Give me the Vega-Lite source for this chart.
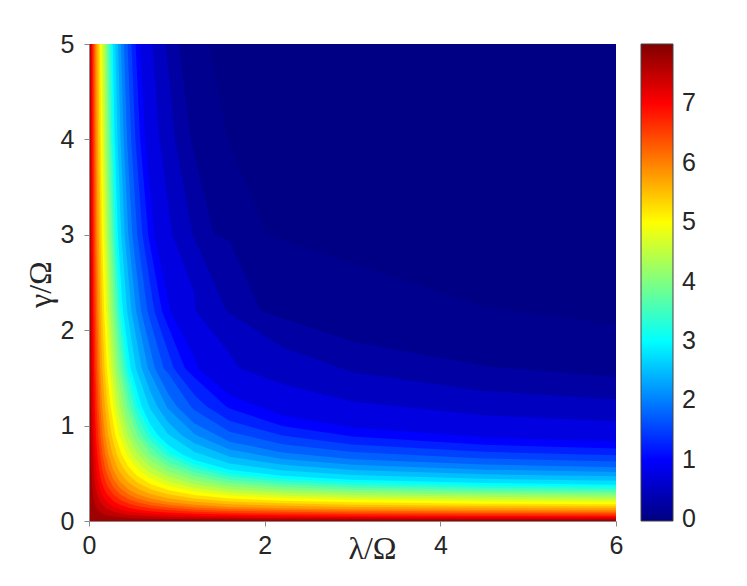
{
"$schema":"https://vega.github.io/schema/vega-lite/v6.json",
"width":527,"height":477,
"autosize":{"type":"none"},
"padding":{"left":89,"top":44,"right":131,"bottom":65},
"background":"white",
"config":{"view":{"stroke":null}},
"data":{"values":[
{"lev":0,"x":0,"y":5},{"lev":0,"x":6,"y":5},
{"lev":0.08,"x":0,"y":5},{"lev":0.08,"x":1.361,"y":5},{"lev":0.08,"x":1.582,"y":4},{"lev":0.08,"x":2.028,"y":3},{"lev":0.08,"x":3,"y":2.699},{"lev":0.08,"x":4.5,"y":2.247},{"lev":0.08,"x":6,"y":2.061},
{"lev":0.25,"x":0,"y":5},{"lev":0.25,"x":1.022,"y":5},{"lev":0.25,"x":1.16,"y":4},{"lev":0.25,"x":1.422,"y":3},{"lev":0.25,"x":1.6,"y":2.94},{"lev":0.25,"x":1.957,"y":2.2},{"lev":0.25,"x":3,"y":1.884},{"lev":0.25,"x":4.5,"y":1.624},{"lev":0.25,"x":6,"y":1.511},
{"lev":0.5,"x":0,"y":5},{"lev":0.5,"x":0.872,"y":5},{"lev":0.5,"x":0.981,"y":4},{"lev":0.5,"x":1.18,"y":3},{"lev":0.5,"x":1.565,"y":2.2},{"lev":0.5,"x":2.2,"y":1.821},{"lev":0.5,"x":3,"y":1.559},{"lev":0.5,"x":4.5,"y":1.363},{"lev":0.5,"x":6,"y":1.277},
{"lev":0.75,"x":0,"y":5},{"lev":0.75,"x":0.721,"y":5},{"lev":0.75,"x":0.803,"y":4},{"lev":0.75,"x":0.949,"y":3},{"lev":0.75,"x":1.2,"y":2.398},{"lev":0.75,"x":1.216,"y":2.2},{"lev":0.75,"x":1.6,"y":1.757},{"lev":0.75,"x":1.714,"y":1.6},{"lev":0.75,"x":2.2,"y":1.437},{"lev":0.75,"x":3,"y":1.252},{"lev":0.75,"x":4.5,"y":1.109},{"lev":0.75,"x":6,"y":1.045},
{"lev":1,"x":0,"y":5},{"lev":1,"x":0.58,"y":5},{"lev":1,"x":0.64,"y":4},{"lev":1,"x":0.744,"y":3},{"lev":1,"x":0.926,"y":2.2},{"lev":1,"x":1.2,"y":1.71},{"lev":1,"x":1.24,"y":1.6},{"lev":1,"x":1.6,"y":1.319},{"lev":1,"x":2.2,"y":1.107},{"lev":1,"x":3,"y":0.98},{"lev":1,"x":4.5,"y":0.879},{"lev":1,"x":6,"y":0.833},
{"lev":1.25,"x":0,"y":5},{"lev":1.25,"x":0.53,"y":5},{"lev":1.25,"x":0.583,"y":4},{"lev":1.25,"x":0.674,"y":3},{"lev":1.25,"x":0.83,"y":2.2},{"lev":1.25,"x":1.093,"y":1.6},{"lev":1.25,"x":1.2,"y":1.503},{"lev":1.25,"x":1.56,"y":1.2},{"lev":1.25,"x":1.6,"y":1.178},{"lev":1.25,"x":2.2,"y":0.997},{"lev":1.25,"x":3,"y":0.887},{"lev":1.25,"x":4.5,"y":0.799},{"lev":1.25,"x":6,"y":0.759},
{"lev":1.5,"x":0,"y":5},{"lev":1.5,"x":0.483,"y":5},{"lev":1.5,"x":0.529,"y":4},{"lev":1.5,"x":0.609,"y":3},{"lev":1.5,"x":0.744,"y":2.2},{"lev":1.5,"x":0.965,"y":1.6},{"lev":1.5,"x":1.2,"y":1.322},{"lev":1.5,"x":1.341,"y":1.2},{"lev":1.5,"x":1.6,"y":1.05},{"lev":1.5,"x":2.2,"y":0.896},{"lev":1.5,"x":3,"y":0.801},{"lev":1.5,"x":4.5,"y":0.725},{"lev":1.5,"x":6,"y":0.689},
{"lev":1.75,"x":0,"y":5},{"lev":1.75,"x":0.439,"y":5},{"lev":1.75,"x":0.48,"y":4},{"lev":1.75,"x":0.549,"y":3},{"lev":1.75,"x":0.665,"y":2.2},{"lev":1.75,"x":0.851,"y":1.6},{"lev":1.75,"x":0.9,"y":1.548},{"lev":1.75,"x":1.158,"y":1.2},{"lev":1.75,"x":1.2,"y":1.163},{"lev":1.75,"x":1.6,"y":0.935},{"lev":1.75,"x":2.2,"y":0.804},{"lev":1.75,"x":3,"y":0.722},{"lev":1.75,"x":4.5,"y":0.656},{"lev":1.75,"x":6,"y":0.624},
{"lev":2,"x":0,"y":5},{"lev":2,"x":0.397,"y":5},{"lev":2,"x":0.433,"y":4},{"lev":2,"x":0.493,"y":3},{"lev":2,"x":0.593,"y":2.2},{"lev":2,"x":0.75,"y":1.6},{"lev":2,"x":0.9,"y":1.335},{"lev":2,"x":1.0,"y":1.2},{"lev":2,"x":1.2,"y":1.021},{"lev":2,"x":1.6,"y":0.831},{"lev":2,"x":2.2,"y":0.719},{"lev":2,"x":3,"y":0.648},{"lev":2,"x":4.5,"y":0.591},{"lev":2,"x":6,"y":0.564},
{"lev":2.25,"x":0,"y":5},{"lev":2.25,"x":0.363,"y":5},{"lev":2.25,"x":0.395,"y":4},{"lev":2.25,"x":0.448,"y":3},{"lev":2.25,"x":0.536,"y":2.2},{"lev":2.25,"x":0.671,"y":1.6},{"lev":2.25,"x":0.882,"y":1.2},{"lev":2.25,"x":0.9,"y":1.176},{"lev":2.25,"x":1.2,"y":0.913},{"lev":2.25,"x":1.222,"y":0.9},{"lev":2.25,"x":1.6,"y":0.749},{"lev":2.25,"x":2.2,"y":0.651},{"lev":2.25,"x":3,"y":0.59},{"lev":2.25,"x":4.5,"y":0.538},{"lev":2.25,"x":6,"y":0.514},
{"lev":2.5,"x":0,"y":5},{"lev":2.5,"x":0.331,"y":5},{"lev":2.5,"x":0.359,"y":4},{"lev":2.5,"x":0.406,"y":3},{"lev":2.5,"x":0.483,"y":2.2},{"lev":2.5,"x":0.6,"y":1.6},{"lev":2.5,"x":0.7,"y":1.353},{"lev":2.5,"x":0.778,"y":1.2},{"lev":2.5,"x":0.9,"y":1.035},{"lev":2.5,"x":1.055,"y":0.9},{"lev":2.5,"x":1.2,"y":0.814},{"lev":2.5,"x":1.6,"y":0.673},{"lev":2.5,"x":2.2,"y":0.589},{"lev":2.5,"x":3,"y":0.534},{"lev":2.5,"x":4.5,"y":0.489},{"lev":2.5,"x":6,"y":0.468},
{"lev":2.75,"x":0,"y":5},{"lev":2.75,"x":0.3,"y":5},{"lev":2.75,"x":0.325,"y":4},{"lev":2.75,"x":0.367,"y":3},{"lev":2.75,"x":0.434,"y":2.2},{"lev":2.75,"x":0.534,"y":1.6},{"lev":2.75,"x":0.684,"y":1.2},{"lev":2.75,"x":0.7,"y":1.169},{"lev":2.75,"x":0.9,"y":0.91},{"lev":2.75,"x":1.2,"y":0.723},{"lev":2.75,"x":1.6,"y":0.603},{"lev":2.75,"x":2.2,"y":0.529},{"lev":2.75,"x":3,"y":0.482},{"lev":2.75,"x":4.5,"y":0.442},{"lev":2.75,"x":6,"y":0.423},
{"lev":3,"x":0,"y":5},{"lev":3,"x":0.271,"y":5},{"lev":3,"x":0.293,"y":4},{"lev":3,"x":0.329,"y":3},{"lev":3,"x":0.387,"y":2.2},{"lev":3,"x":0.474,"y":1.6},{"lev":3,"x":0.6,"y":1.2},{"lev":3,"x":0.7,"y":1.009},{"lev":3,"x":0.786,"y":0.9},{"lev":3,"x":0.9,"y":0.797},{"lev":3,"x":1.059,"y":0.7},{"lev":3,"x":1.2,"y":0.64},{"lev":3,"x":1.6,"y":0.537},{"lev":3,"x":2.2,"y":0.474},{"lev":3,"x":3,"y":0.432},{"lev":3,"x":4.5,"y":0.398},{"lev":3,"x":6,"y":0.381},
{"lev":3.25,"x":0,"y":5},{"lev":3.25,"x":0.254,"y":5},{"lev":3.25,"x":0.275,"y":4},{"lev":3.25,"x":0.308,"y":3},{"lev":3.25,"x":0.362,"y":2.2},{"lev":3.25,"x":0.44,"y":1.6},{"lev":3.25,"x":0.555,"y":1.2},{"lev":3.25,"x":0.7,"y":0.926},{"lev":3.25,"x":0.72,"y":0.9},{"lev":3.25,"x":0.9,"y":0.736},{"lev":3.25,"x":0.958,"y":0.7},{"lev":3.25,"x":1.2,"y":0.595},{"lev":3.25,"x":1.6,"y":0.501},{"lev":3.25,"x":2.2,"y":0.443},{"lev":3.25,"x":3,"y":0.405},{"lev":3.25,"x":4.5,"y":0.373},{"lev":3.25,"x":6,"y":0.358},
{"lev":3.5,"x":0,"y":5},{"lev":3.5,"x":0.238,"y":5},{"lev":3.5,"x":0.257,"y":4},{"lev":3.5,"x":0.288,"y":3},{"lev":3.5,"x":0.337,"y":2.2},{"lev":3.5,"x":0.409,"y":1.6},{"lev":3.5,"x":0.512,"y":1.2},{"lev":3.5,"x":0.55,"y":1.099},{"lev":3.5,"x":0.659,"y":0.9},{"lev":3.5,"x":0.7,"y":0.847},{"lev":3.5,"x":0.867,"y":0.7},{"lev":3.5,"x":0.9,"y":0.679},{"lev":3.5,"x":1.2,"y":0.552},{"lev":3.5,"x":1.6,"y":0.466},{"lev":3.5,"x":2.2,"y":0.413},{"lev":3.5,"x":3,"y":0.378},{"lev":3.5,"x":4.5,"y":0.349},{"lev":3.5,"x":6,"y":0.335},
{"lev":3.75,"x":0,"y":5},{"lev":3.75,"x":0.223,"y":5},{"lev":3.75,"x":0.24,"y":4},{"lev":3.75,"x":0.268,"y":3},{"lev":3.75,"x":0.313,"y":2.2},{"lev":3.75,"x":0.378,"y":1.6},{"lev":3.75,"x":0.471,"y":1.2},{"lev":3.75,"x":0.55,"y":0.994},{"lev":3.75,"x":0.602,"y":0.9},{"lev":3.75,"x":0.7,"y":0.775},{"lev":3.75,"x":0.783,"y":0.7},{"lev":3.75,"x":0.9,"y":0.625},{"lev":3.75,"x":1.2,"y":0.51},{"lev":3.75,"x":1.6,"y":0.433},{"lev":3.75,"x":2.2,"y":0.384},{"lev":3.75,"x":3,"y":0.352},{"lev":3.75,"x":4.5,"y":0.325},{"lev":3.75,"x":6,"y":0.312},
{"lev":4,"x":0,"y":5},{"lev":4,"x":0.207,"y":5},{"lev":4,"x":0.223,"y":4},{"lev":4,"x":0.249,"y":3},{"lev":4,"x":0.29,"y":2.2},{"lev":4,"x":0.349,"y":1.6},{"lev":4,"x":0.433,"y":1.2},{"lev":4,"x":0.549,"y":0.9},{"lev":4,"x":0.7,"y":0.706},{"lev":4,"x":0.9,"y":0.573},{"lev":4,"x":1.2,"y":0.471},{"lev":4,"x":1.6,"y":0.401},{"lev":4,"x":2.2,"y":0.356},{"lev":4,"x":3,"y":0.327},{"lev":4,"x":4.5,"y":0.302},{"lev":4,"x":6,"y":0.291},
{"lev":4.25,"x":0,"y":5},{"lev":4.25,"x":0.19,"y":5},{"lev":4.25,"x":0.205,"y":4},{"lev":4.25,"x":0.228,"y":3},{"lev":4.25,"x":0.265,"y":2.2},{"lev":4.25,"x":0.318,"y":1.6},{"lev":4.25,"x":0.391,"y":1.2},{"lev":4.25,"x":0.45,"y":1.001},{"lev":4.25,"x":0.493,"y":0.9},{"lev":4.25,"x":0.55,"y":0.798},{"lev":4.25,"x":0.628,"y":0.7},{"lev":4.25,"x":0.7,"y":0.634},{"lev":4.25,"x":0.9,"y":0.518},{"lev":4.25,"x":1.2,"y":0.428},{"lev":4.25,"x":1.6,"y":0.365},{"lev":4.25,"x":2.2,"y":0.326},{"lev":4.25,"x":3,"y":0.299},{"lev":4.25,"x":4.5,"y":0.277},{"lev":4.25,"x":6,"y":0.266},
{"lev":4.5,"x":0,"y":5},{"lev":4.5,"x":0.174,"y":5},{"lev":4.5,"x":0.187,"y":4},{"lev":4.5,"x":0.208,"y":3},{"lev":4.5,"x":0.241,"y":2.2},{"lev":4.5,"x":0.287,"y":1.6},{"lev":4.5,"x":0.352,"y":1.2},{"lev":4.5,"x":0.44,"y":0.9},{"lev":4.5,"x":0.55,"y":0.707},{"lev":4.5,"x":0.7,"y":0.567},{"lev":4.5,"x":0.9,"y":0.466},{"lev":4.5,"x":1.2,"y":0.386},{"lev":4.5,"x":1.6,"y":0.331},{"lev":4.5,"x":2.2,"y":0.296},{"lev":4.5,"x":3,"y":0.272},{"lev":4.5,"x":4.5,"y":0.253},{"lev":4.5,"x":6,"y":0.243},
{"lev":4.75,"x":0,"y":5},{"lev":4.75,"x":0.158,"y":5},{"lev":4.75,"x":0.169,"y":4},{"lev":4.75,"x":0.188,"y":3},{"lev":4.75,"x":0.217,"y":2.2},{"lev":4.75,"x":0.258,"y":1.6},{"lev":4.75,"x":0.315,"y":1.2},{"lev":4.75,"x":0.391,"y":0.9},{"lev":4.75,"x":0.45,"y":0.765},{"lev":4.75,"x":0.489,"y":0.7},{"lev":4.75,"x":0.55,"y":0.623},{"lev":4.75,"x":0.631,"y":0.55},{"lev":4.75,"x":0.7,"y":0.504},{"lev":4.75,"x":0.9,"y":0.417},{"lev":4.75,"x":1.2,"y":0.347},{"lev":4.75,"x":1.6,"y":0.299},{"lev":4.75,"x":2.2,"y":0.267},{"lev":4.75,"x":3,"y":0.247},{"lev":4.75,"x":4.5,"y":0.229},{"lev":4.75,"x":6,"y":0.22},
{"lev":5,"x":0,"y":5},{"lev":5,"x":0.142,"y":5},{"lev":5,"x":0.152,"y":4},{"lev":5,"x":0.169,"y":3},{"lev":5,"x":0.195,"y":2.2},{"lev":5,"x":0.231,"y":1.6},{"lev":5,"x":0.28,"y":1.2},{"lev":5,"x":0.345,"y":0.9},{"lev":5,"x":0.429,"y":0.7},{"lev":5,"x":0.45,"y":0.665},{"lev":5,"x":0.55,"y":0.546},{"lev":5,"x":0.7,"y":0.445},{"lev":5,"x":0.9,"y":0.37},{"lev":5,"x":1.2,"y":0.31},{"lev":5,"x":1.6,"y":0.267},{"lev":5,"x":2.2,"y":0.24},{"lev":5,"x":3,"y":0.222},{"lev":5,"x":4.5,"y":0.206},{"lev":5,"x":6,"y":0.198},
{"lev":5.25,"x":0,"y":5},{"lev":5.25,"x":0.126,"y":5},{"lev":5.25,"x":0.135,"y":4},{"lev":5.25,"x":0.149,"y":3},{"lev":5.25,"x":0.172,"y":2.2},{"lev":5.25,"x":0.203,"y":1.6},{"lev":5.25,"x":0.245,"y":1.2},{"lev":5.25,"x":0.3,"y":0.9},{"lev":5.25,"x":0.37,"y":0.7},{"lev":5.25,"x":0.45,"y":0.569},{"lev":5.25,"x":0.55,"y":0.472},{"lev":5.25,"x":0.7,"y":0.387},{"lev":5.25,"x":0.9,"y":0.324},{"lev":5.25,"x":1.2,"y":0.272},{"lev":5.25,"x":1.6,"y":0.236},{"lev":5.25,"x":2.2,"y":0.212},{"lev":5.25,"x":3,"y":0.196},{"lev":5.25,"x":4.5,"y":0.182},{"lev":5.25,"x":6,"y":0.176},
{"lev":5.5,"x":0,"y":5},{"lev":5.5,"x":0.11,"y":5},{"lev":5.5,"x":0.118,"y":4},{"lev":5.5,"x":0.131,"y":3},{"lev":5.5,"x":0.15,"y":2.2},{"lev":5.5,"x":0.176,"y":1.6},{"lev":5.5,"x":0.212,"y":1.2},{"lev":5.5,"x":0.258,"y":0.9},{"lev":5.5,"x":0.316,"y":0.7},{"lev":5.5,"x":0.35,"y":0.623},{"lev":5.5,"x":0.394,"y":0.55},{"lev":5.5,"x":0.45,"y":0.483},{"lev":5.5,"x":0.55,"y":0.403},{"lev":5.5,"x":0.7,"y":0.333},{"lev":5.5,"x":0.9,"y":0.28},{"lev":5.5,"x":1.2,"y":0.237},{"lev":5.5,"x":1.6,"y":0.205},{"lev":5.5,"x":2.2,"y":0.185},{"lev":5.5,"x":3,"y":0.171},{"lev":5.5,"x":4.5,"y":0.16},{"lev":5.5,"x":6,"y":0.154},
{"lev":5.75,"x":0,"y":5},{"lev":5.75,"x":0.095,"y":5},{"lev":5.75,"x":0.102,"y":4},{"lev":5.75,"x":0.112,"y":3},{"lev":5.75,"x":0.129,"y":2.2},{"lev":5.75,"x":0.151,"y":1.6},{"lev":5.75,"x":0.181,"y":1.2},{"lev":5.75,"x":0.219,"y":0.9},{"lev":5.75,"x":0.266,"y":0.7},{"lev":5.75,"x":0.328,"y":0.55},{"lev":5.75,"x":0.35,"y":0.514},{"lev":5.75,"x":0.4,"y":0.45},{"lev":5.75,"x":0.45,"y":0.404},{"lev":5.75,"x":0.55,"y":0.34},{"lev":5.75,"x":0.7,"y":0.282},{"lev":5.75,"x":0.9,"y":0.239},{"lev":5.75,"x":1.2,"y":0.202},{"lev":5.75,"x":1.6,"y":0.176},{"lev":5.75,"x":2.2,"y":0.159},{"lev":5.75,"x":3,"y":0.148},{"lev":5.75,"x":4.5,"y":0.138},{"lev":5.75,"x":6,"y":0.133},
{"lev":6,"x":0,"y":5},{"lev":6,"x":0.081,"y":5},{"lev":6,"x":0.086,"y":4},{"lev":6,"x":0.095,"y":3},{"lev":6,"x":0.108,"y":2.2},{"lev":6,"x":0.127,"y":1.6},{"lev":6,"x":0.151,"y":1.2},{"lev":6,"x":0.182,"y":0.9},{"lev":6,"x":0.22,"y":0.7},{"lev":6,"x":0.269,"y":0.55},{"lev":6,"x":0.28,"y":0.526},{"lev":6,"x":0.325,"y":0.45},{"lev":6,"x":0.35,"y":0.417},{"lev":6,"x":0.45,"y":0.331},{"lev":6,"x":0.55,"y":0.281},{"lev":6,"x":0.7,"y":0.235},{"lev":6,"x":0.9,"y":0.199},{"lev":6,"x":1.2,"y":0.17},{"lev":6,"x":1.6,"y":0.148},{"lev":6,"x":2.2,"y":0.134},{"lev":6,"x":3,"y":0.124},{"lev":6,"x":4.5,"y":0.116},{"lev":6,"x":6,"y":0.112},
{"lev":6.25,"x":0,"y":5},{"lev":6.25,"x":0.069,"y":5},{"lev":6.25,"x":0.074,"y":4},{"lev":6.25,"x":0.081,"y":3},{"lev":6.25,"x":0.093,"y":2.2},{"lev":6.25,"x":0.108,"y":1.6},{"lev":6.25,"x":0.129,"y":1.2},{"lev":6.25,"x":0.154,"y":0.9},{"lev":6.25,"x":0.185,"y":0.7},{"lev":6.25,"x":0.226,"y":0.55},{"lev":6.25,"x":0.271,"y":0.45},{"lev":6.25,"x":0.28,"y":0.434},{"lev":6.25,"x":0.35,"y":0.348},{"lev":6.25,"x":0.45,"y":0.278},{"lev":6.25,"x":0.55,"y":0.237},{"lev":6.25,"x":0.7,"y":0.199},{"lev":6.25,"x":0.9,"y":0.17},{"lev":6.25,"x":1.2,"y":0.145},{"lev":6.25,"x":1.6,"y":0.127},{"lev":6.25,"x":2.2,"y":0.115},{"lev":6.25,"x":3,"y":0.107},{"lev":6.25,"x":4.5,"y":0.1},{"lev":6.25,"x":6,"y":0.096},
{"lev":6.5,"x":0,"y":5},{"lev":6.5,"x":0.058,"y":5},{"lev":6.5,"x":0.062,"y":4},{"lev":6.5,"x":0.068,"y":3},{"lev":6.5,"x":0.078,"y":2.2},{"lev":6.5,"x":0.091,"y":1.6},{"lev":6.5,"x":0.107,"y":1.2},{"lev":6.5,"x":0.128,"y":0.9},{"lev":6.5,"x":0.153,"y":0.7},{"lev":6.5,"x":0.185,"y":0.55},{"lev":6.5,"x":0.2,"y":0.503},{"lev":6.5,"x":0.221,"y":0.45},{"lev":6.5,"x":0.28,"y":0.351},{"lev":6.5,"x":0.35,"y":0.284},{"lev":6.5,"x":0.45,"y":0.229},{"lev":6.5,"x":0.55,"y":0.196},{"lev":6.5,"x":0.7,"y":0.165},{"lev":6.5,"x":0.9,"y":0.142},{"lev":6.5,"x":1.2,"y":0.121},{"lev":6.5,"x":1.6,"y":0.106},{"lev":6.5,"x":2.2,"y":0.096},{"lev":6.5,"x":3,"y":0.09},{"lev":6.5,"x":4.5,"y":0.084},{"lev":6.5,"x":6,"y":0.081},
{"lev":6.75,"x":0,"y":5},{"lev":6.75,"x":0.047,"y":5},{"lev":6.75,"x":0.051,"y":4},{"lev":6.75,"x":0.056,"y":3},{"lev":6.75,"x":0.063,"y":2.2},{"lev":6.75,"x":0.073,"y":1.6},{"lev":6.75,"x":0.087,"y":1.2},{"lev":6.75,"x":0.103,"y":0.9},{"lev":6.75,"x":0.123,"y":0.7},{"lev":6.75,"x":0.148,"y":0.55},{"lev":6.75,"x":0.175,"y":0.45},{"lev":6.75,"x":0.2,"y":0.387},{"lev":6.75,"x":0.22,"y":0.35},{"lev":6.75,"x":0.28,"y":0.275},{"lev":6.75,"x":0.35,"y":0.225},{"lev":6.75,"x":0.45,"y":0.183},{"lev":6.75,"x":0.55,"y":0.157},{"lev":6.75,"x":0.7,"y":0.133},{"lev":6.75,"x":0.9,"y":0.114},{"lev":6.75,"x":1.2,"y":0.098},{"lev":6.75,"x":1.6,"y":0.086},{"lev":6.75,"x":2.2,"y":0.078},{"lev":6.75,"x":3,"y":0.073},{"lev":6.75,"x":4.5,"y":0.068},{"lev":6.75,"x":6,"y":0.066},
{"lev":7,"x":0,"y":5},{"lev":7,"x":0.037,"y":5},{"lev":7,"x":0.039,"y":4},{"lev":7,"x":0.043,"y":3},{"lev":7,"x":0.049,"y":2.2},{"lev":7,"x":0.057,"y":1.6},{"lev":7,"x":0.067,"y":1.2},{"lev":7,"x":0.079,"y":0.9},{"lev":7,"x":0.094,"y":0.7},{"lev":7,"x":0.112,"y":0.55},{"lev":7,"x":0.132,"y":0.45},{"lev":7,"x":0.14,"y":0.42},{"lev":7,"x":0.165,"y":0.35},{"lev":7,"x":0.2,"y":0.285},{"lev":7,"x":0.28,"y":0.207},{"lev":7,"x":0.35,"y":0.17},{"lev":7,"x":0.45,"y":0.139},{"lev":7,"x":0.55,"y":0.12},{"lev":7,"x":0.7,"y":0.102},{"lev":7,"x":0.9,"y":0.088},{"lev":7,"x":1.2,"y":0.076},{"lev":7,"x":1.6,"y":0.067},{"lev":7,"x":2.2,"y":0.061},{"lev":7,"x":3,"y":0.056},{"lev":7,"x":4.5,"y":0.053},{"lev":7,"x":6,"y":0.051},
{"lev":7.25,"x":0,"y":5},{"lev":7.25,"x":0.027,"y":5},{"lev":7.25,"x":0.029,"y":4},{"lev":7.25,"x":0.032,"y":3},{"lev":7.25,"x":0.036,"y":2.2},{"lev":7.25,"x":0.042,"y":1.6},{"lev":7.25,"x":0.049,"y":1.2},{"lev":7.25,"x":0.058,"y":0.9},{"lev":7.25,"x":0.069,"y":0.7},{"lev":7.25,"x":0.082,"y":0.55},{"lev":7.25,"x":0.096,"y":0.45},{"lev":7.25,"x":0.119,"y":0.35},{"lev":7.25,"x":0.14,"y":0.292},{"lev":7.25,"x":0.2,"y":0.203},{"lev":7.25,"x":0.28,"y":0.149},{"lev":7.25,"x":0.35,"y":0.124},{"lev":7.25,"x":0.45,"y":0.102},{"lev":7.25,"x":0.55,"y":0.088},{"lev":7.25,"x":0.7,"y":0.075},{"lev":7.25,"x":0.9,"y":0.065},{"lev":7.25,"x":1.2,"y":0.056},{"lev":7.25,"x":1.6,"y":0.049},{"lev":7.25,"x":2.2,"y":0.045},{"lev":7.25,"x":3,"y":0.042},{"lev":7.25,"x":4.5,"y":0.039},{"lev":7.25,"x":6,"y":0.038},
{"lev":7.5,"x":0,"y":5},{"lev":7.5,"x":0.018,"y":5},{"lev":7.5,"x":0.021,"y":3},{"lev":7.5,"x":0.028,"y":1.6},{"lev":7.5,"x":0.032,"y":1.2},{"lev":7.5,"x":0.038,"y":0.9},{"lev":7.5,"x":0.045,"y":0.7},{"lev":7.5,"x":0.053,"y":0.55},{"lev":7.5,"x":0.062,"y":0.45},{"lev":7.5,"x":0.076,"y":0.35},{"lev":7.5,"x":0.093,"y":0.28},{"lev":7.5,"x":0.1,"y":0.257},{"lev":7.5,"x":0.127,"y":0.2},{"lev":7.5,"x":0.14,"y":0.181},{"lev":7.5,"x":0.2,"y":0.129},{"lev":7.5,"x":0.28,"y":0.096},{"lev":7.5,"x":0.35,"y":0.08},{"lev":7.5,"x":0.45,"y":0.066},{"lev":7.5,"x":0.55,"y":0.057},{"lev":7.5,"x":0.7,"y":0.049},{"lev":7.5,"x":0.9,"y":0.043},{"lev":7.5,"x":1.2,"y":0.037},{"lev":7.5,"x":1.6,"y":0.033},{"lev":7.5,"x":2.2,"y":0.03},{"lev":7.5,"x":3,"y":0.028},{"lev":7.5,"x":4.5,"y":0.026},{"lev":7.5,"x":6,"y":0.025},
{"lev":7.75,"x":0,"y":5},{"lev":7.75,"x":0.009,"y":5},{"lev":7.75,"x":0.014,"y":1.6},{"lev":7.75,"x":0.019,"y":0.9},{"lev":7.75,"x":0.026,"y":0.55},{"lev":7.75,"x":0.037,"y":0.35},{"lev":7.75,"x":0.044,"y":0.28},{"lev":7.75,"x":0.06,"y":0.2},{"lev":7.75,"x":0.084,"y":0.14},{"lev":7.75,"x":0.1,"y":0.117},{"lev":7.75,"x":0.14,"y":0.085},{"lev":7.75,"x":0.2,"y":0.061},{"lev":7.75,"x":0.28,"y":0.046},{"lev":7.75,"x":0.45,"y":0.032},{"lev":7.75,"x":0.7,"y":0.024},{"lev":7.75,"x":1.2,"y":0.018},{"lev":7.75,"x":2.2,"y":0.015},{"lev":7.75,"x":4.5,"y":0.013},{"lev":7.75,"x":6,"y":0.012}
]},
"mark":{"type":"area","interpolate":"linear"},
"encoding":{
"x":{"field":"x","type":"quantitative","scale":{"domain":[0,6],"nice":false,"zero":false},
"axis":{"zindex":1,"values":[0,2,4,6],"grid":false,"title":"λ/Ω","titleFont":"Liberation Serif","titleFontSize":32,"titleFontWeight":"normal","titleColor":"#262626","titleX":283,"titleY":37,"titleBaseline":"alphabetic","titleAlign":"center","labelFont":"Liberation Sans","labelFontSize":25,"labelColor":"#262626","labelPadding":7,"tickSize":5,"tickColor":"#888888","domainColor":"#888888","labelFlush":false}},
"y":{"field":"y","type":"quantitative","stack":null,"scale":{"domain":[0,5],"nice":false,"zero":true},
"axis":{"zindex":1,"values":[0,1,2,3,4,5],"grid":false,"title":"γ/Ω","titleFont":"Liberation Serif","titleFontSize":32,"titleFontWeight":"normal","titleColor":"#262626","titleX":-39,"titleY":240,"titleAngle":-90,"titleBaseline":"alphabetic","titleAlign":"center","labelFont":"Liberation Sans","labelFontSize":25,"labelColor":"#262626","labelPadding":10,"tickSize":5,"tickColor":"#888888","domainColor":"#888888","labelFlush":false}},
"detail":{"field":"lev","type":"quantitative"},
"color":{"field":"lev","type":"quantitative","scale":{"domain":[-0.03,1,3,5,7,8],"range":["#000080","#0000ff","#00ffff","#ffff00","#ff0000","#800000"],"interpolate":"rgb","clamp":true},
"legend":{"type":"gradient","orient":"none","legendX":552,"legendY":0,"direction":"vertical","gradientLength":477,"gradientThickness":32,"title":null,"values":[0,1,2,3,4,5,6,7],"labelFont":"Liberation Sans","labelFontSize":25,"labelColor":"#262626","labelOffset":9,"labelBaseline":"middle","gradientStrokeColor":"#444444","gradientStrokeWidth":1,"padding":0,"labelOverlap":false}}
}
}
